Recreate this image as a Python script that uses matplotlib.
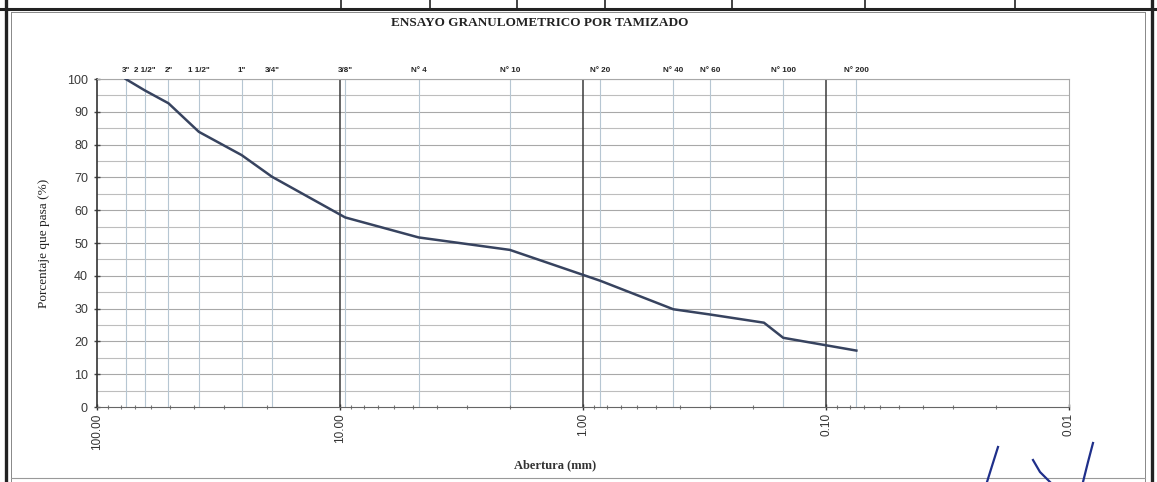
import matplotlib
matplotlib.use("Agg")
import matplotlib.pyplot as plt
from matplotlib.lines import Line2D
from matplotlib.ticker import FixedLocator, NullFormatter, LogLocator

# Sieve series (label, opening in mm)
sieve_labels = ['3"', '2 1/2"', '2"', '1 1/2"', '1"', '3/4"', '3/8"',
                'N° 4', 'N° 10', 'N° 20', 'N° 40', 'N° 60', 'N° 100', 'N° 200']
sieve_openings = [76.2, 63.5, 50.8, 38.1, 25.4, 19.05, 9.525,
                  4.75, 2.00, 0.85, 0.425, 0.30, 0.15, 0.075]

# Grading curve: opening (mm) and percent passing
curve_openings = [76.2, 63.5, 50.8, 38.1, 25.4, 19.05, 9.525,
                  4.75, 2.00, 0.85, 0.425, 0.30, 0.18, 0.15, 0.075]
curve_passing = [100.0, 96.5, 92.6, 83.9, 76.8, 70.2, 57.8,
                 51.7, 47.9, 38.5, 29.8, 28.2, 25.7, 21.1, 17.2]

decades = [100, 10, 1, 0.1, 0.01]
decade_labels = ["100.00", "10.00", "1.00", "0.10", "0.01"]
y_ticks = list(range(0, 101, 10))

W, H = 1157, 482
fig = plt.figure(figsize=(W / 100, H / 100), dpi=100)
fig.patch.set_facecolor("white")

ax = fig.add_axes([97 / W, 1 - 407 / H, (1069 - 97) / W, (407 - 79) / H])
ax.set_xscale("log")
ax.set_xlim(100, 0.01)
ax.set_ylim(0, 100)

# horizontal grid every 5 %
for yv in range(5, 101, 5):
    ax.axhline(yv, color="#a8a8a8" if yv % 10 == 0 else "#bdbdbd",
               lw=0.8, zorder=1)
# sieve verticals
for d in sieve_openings:
    ax.axvline(d, color="#b6c6d2", lw=0.8, zorder=1)
# decade verticals
for d in decades[1:-1]:
    ax.axvline(d, color="#3a3a3a", lw=1.1, zorder=2)

ax.plot(curve_openings, curve_passing, color="#37435f", lw=1.8,
        solid_joinstyle="round", zorder=5)

# sieve names along the top
for lab, d in zip(sieve_labels, sieve_openings):
    ax.text(d, 101.5, lab, ha="center", va="bottom", fontsize=5.8,
            family="Liberation Sans", fontweight="bold", color="#222222")

ax.xaxis.set_major_locator(FixedLocator(decades))
ax.set_xticklabels(decade_labels, rotation=90, fontsize=8.5,
                   family="Liberation Sans", color="#333333")
ax.xaxis.set_minor_locator(LogLocator(base=10, subs=range(2, 10)))
ax.xaxis.set_minor_formatter(NullFormatter())
ax.tick_params(axis="x", which="major", direction="inout", length=5,
               width=1.0, color="#333333", pad=2)
ax.tick_params(axis="x", which="minor", direction="inout", length=3,
               width=0.8, color="#777777")

ax.set_yticks(y_ticks)
ax.set_yticklabels([str(v) for v in y_ticks], fontsize=9,
                   family="Liberation Sans", color="#3a3a3a")
ax.tick_params(axis="y", direction="inout", length=5, width=1.0,
               color="#444444", pad=4)

for side, sp in ax.spines.items():
    sp.set_color("#a8a8a8")
    sp.set_linewidth(0.8)
ax.spines["left"].set_color("#333333")
ax.spines["left"].set_linewidth(1.2)
ax.spines["bottom"].set_color("#666666")

ax.set_ylabel("Porcentaje que pasa (%)", family="Liberation Serif",
              fontsize=9.5, color="#222222", labelpad=12)

fig.text(540 / W, 1 - 23 / H, "ENSAYO GRANULOMETRICO POR TAMIZADO",
         ha="center", va="center", family="Liberation Serif",
         fontsize=9.5, fontweight="bold", color="#222222")
fig.text(555 / W, 1 - 465 / H, "Abertura (mm)", ha="center", va="center",
         family="Liberation Serif", fontsize=9, fontweight="bold",
         color="#333333")


def fig_line(x0, y0, x1, y1, color="#222222", lw=1.0):
    fig.add_artist(Line2D([x0 / W, x1 / W], [1 - y0 / H, 1 - y1 / H],
                          color=color, lw=lw, transform=fig.transFigure))


# surrounding sheet frame
fig_line(0, 9, W, 9, lw=2.2)
fig_line(6, 0, 6, H, lw=2.4)
fig_line(11, 12, 11, H, color="#888888", lw=0.7)
fig_line(1152, 0, 1152, H, lw=2.4)
fig_line(1145, 12, 1145, H, color="#888888", lw=0.7)
fig_line(11, 12, 1145, 12, color="#888888", lw=0.7)
fig_line(11, 478, 1145, 478, color="#999999", lw=0.8)
for xv in [341, 430, 517, 605, 732, 865, 1015]:
    fig_line(xv, 0, xv, 9, lw=1.2)

# handwritten mark
ink = "#1f2f8a"
fig.add_artist(Line2D([998 / W, 992 / W, 987 / W], [1 - 447 / H, 1 - 466 / H, 1 - 482 / H],
                      color=ink, lw=1.6, transform=fig.transFigure))
fig.add_artist(Line2D([1033 / W, 1040 / W, 1050 / W], [1 - 460 / H, 1 - 472 / H, 1 - 482 / H],
                      color=ink, lw=1.6, transform=fig.transFigure))
fig.add_artist(Line2D([1093 / W, 1088 / W, 1083 / W], [1 - 443 / H, 1 - 462 / H, 1 - 482 / H],
                      color=ink, lw=1.6, transform=fig.transFigure))

fig.savefig("out.png", dpi=100, facecolor="white")
